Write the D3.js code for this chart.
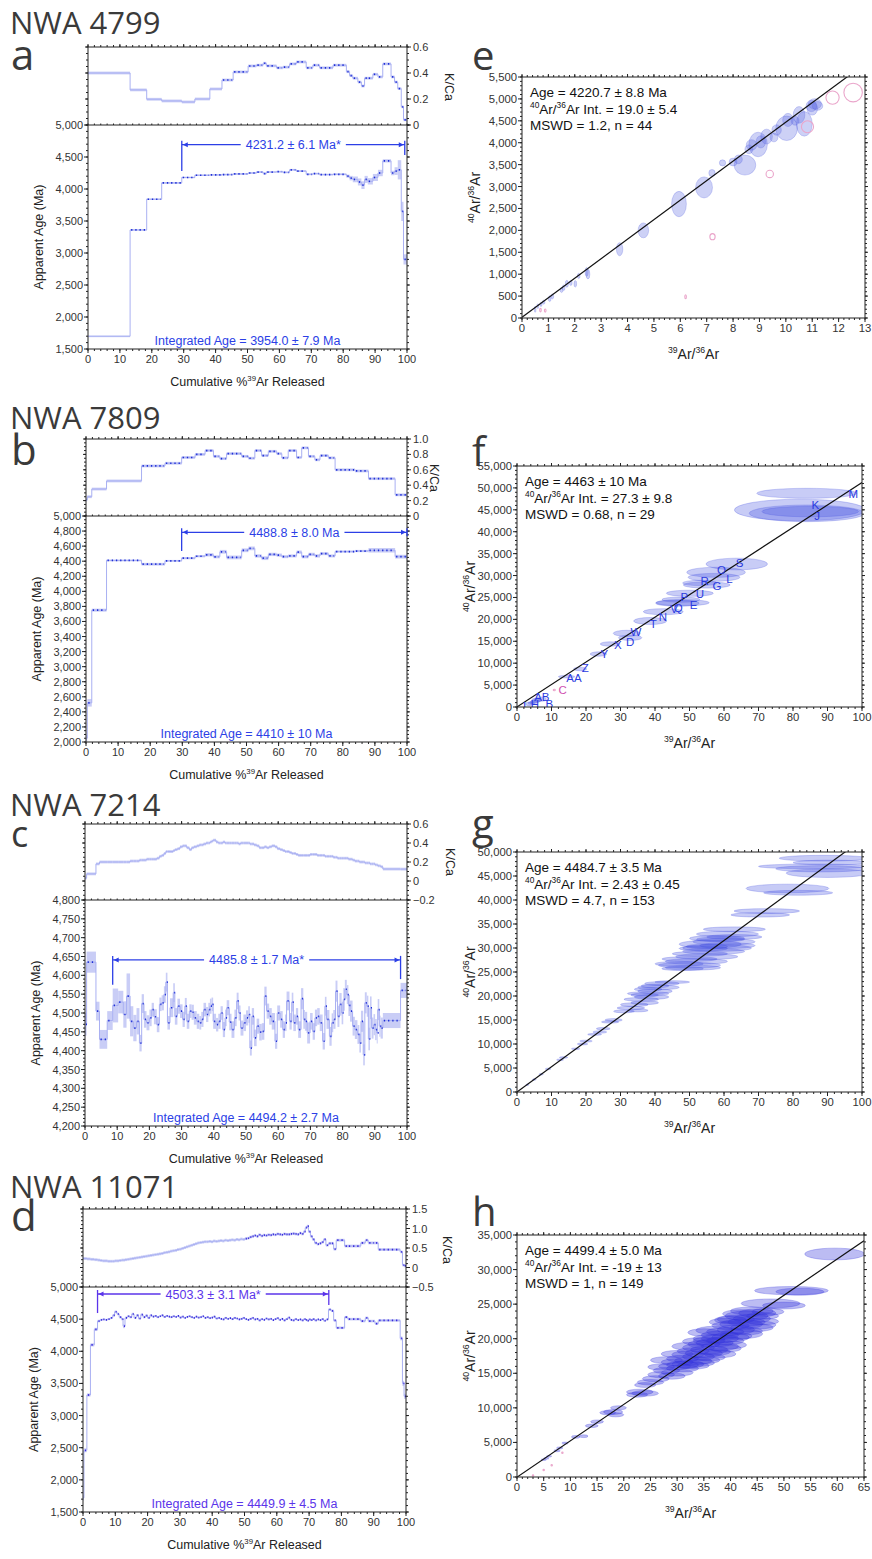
<!DOCTYPE html>
<html>
<head>
<meta charset="utf-8">
<script src="https://cdn.jsdelivr.net/npm/d3@7"></script>
<style>
  body { margin: 0; background: #fff; }
  text { font-family: "Liberation Sans", Arial, sans-serif; }
  .big { font-family: "Open Sans", "Noto Sans", sans-serif; fill: #3a3a3a; }
</style>
</head>
<body>
<div id="fig"></div>
<script>
// ---- data -------------------------------------------------------------
const sampleNames = ['NWA 4799', 'NWA 7809', 'NWA 7214', 'NWA 11071'];
const leftLetters = ['a', 'b', 'c', 'd'];
const rightLetters = ['e', 'f', 'g', 'h'];

// steps: [start cumulative % 39Ar, apparent age (Ma), age 1s error, K/Ca]
const stepsA = [
  [0, 1700, 8, 0.40], [13.2, 3360, 12, 0.27], [18.4, 3840, 12, 0.198], [23.1, 4095, 14, 0.185],
  [29.4, 4180, 12, 0.177], [33.5, 4215, 12, 0.20], [38.2, 4220, 12, 0.277], [42.0, 4225, 14, 0.346],
  [45.5, 4235, 14, 0.408], [50.2, 4250, 14, 0.454], [52.8, 4265, 14, 0.46], [54.9, 4240, 16, 0.475],
  [55.9, 4265, 12, 0.455], [59.1, 4270, 14, 0.44], [61.1, 4260, 14, 0.445], [63.2, 4300, 14, 0.47],
  [65.3, 4280, 14, 0.485], [68.4, 4230, 14, 0.44], [70.5, 4240, 14, 0.46], [72.6, 4225, 14, 0.44],
  [76.8, 4230, 14, 0.46], [81.0, 4200, 25, 0.41], [82.0, 4170, 35, 0.38], [83.0, 4150, 45, 0.36],
  [84.6, 4110, 55, 0.33], [85.7, 4060, 60, 0.30], [86.7, 4150, 55, 0.36], [87.7, 4120, 50, 0.36],
  [89.3, 4180, 55, 0.39], [90.9, 4250, 50, 0.37], [92.4, 4440, 25, 0.47], [95.0, 4250, 35, 0.37],
  [96.1, 4280, 60, 0.33], [97.1, 4300, 150, 0.28], [98.2, 3650, 150, 0.14], [98.9, 2900, 80, 0.04]
];
const stepsB = [
  [0, 2050, 40, 0.21], [0.4, 2520, 50, 0.25], [1.8, 3750, 20, 0.35], [6.4, 4410, 12, 0.455],
  [17.3, 4360, 18, 0.65], [24.6, 4405, 12, 0.685], [29.8, 4440, 15, 0.76], [34.0, 4466, 15, 0.80],
  [37.1, 4485, 22, 0.85], [39.7, 4458, 20, 0.775], [41.7, 4525, 25, 0.745], [43.8, 4450, 25, 0.81],
  [48.5, 4545, 25, 0.775], [50.6, 4570, 25, 0.75], [52.6, 4470, 22, 0.85], [54.7, 4440, 25, 0.785],
  [56.8, 4490, 22, 0.84], [59.4, 4480, 22, 0.81], [61.0, 4460, 20, 0.755], [63.0, 4470, 20, 0.85],
  [65.6, 4520, 22, 0.76], [67.2, 4460, 22, 0.885], [69.3, 4490, 22, 0.775], [71.3, 4470, 22, 0.73],
  [72.9, 4500, 20, 0.785], [75.5, 4470, 20, 0.755], [77.6, 4528, 15, 0.60], [83.8, 4535, 15, 0.585],
  [88.0, 4545, 30, 0.485], [96.3, 4460, 25, 0.275]
];
const stepsC = [
  [0, 4470, 30, 0.03], [0.5, 4635, 28, 0.075], [3.4, 4505, 25, 0.18], [4.5, 4430, 25, 0.20],
  [6.9, 4480, 25, 0.20], [8.6, 4520, 45, 0.20], [10.3, 4529, 30, 0.20], [11.9, 4496, 35, 0.20],
  [12.9, 4545, 60, 0.20], [14.0, 4478, 40, 0.21], [15.0, 4460, 35, 0.21], [16.0, 4478, 35, 0.21],
  [16.9, 4420, 22, 0.22], [17.6, 4525, 25, 0.22], [18.3, 4483, 22, 0.22], [19.1, 4474, 20, 0.23],
  [20.0, 4487, 22, 0.23], [20.7, 4509, 18, 0.23], [21.4, 4490, 20, 0.23], [22.3, 4469, 20, 0.24],
  [23.1, 4523, 18, 0.26], [23.8, 4527, 20, 0.27], [24.5, 4549, 22, 0.29], [25.1, 4582, 25, 0.31],
  [25.6, 4474, 18, 0.31], [26.4, 4514, 25, 0.31], [27.4, 4554, 25, 0.32], [27.9, 4491, 22, 0.33],
  [28.7, 4518, 20, 0.34], [29.5, 4505, 18, 0.36], [30.3, 4483, 20, 0.37], [31.0, 4518, 22, 0.37],
  [31.6, 4478, 20, 0.35], [32.4, 4505, 18, 0.33], [33.1, 4502, 20, 0.35], [33.8, 4487, 18, 0.36],
  [34.7, 4478, 20, 0.37], [35.5, 4474, 18, 0.38], [36.1, 4483, 20, 0.38], [36.8, 4509, 18, 0.39],
  [37.6, 4496, 20, 0.40], [38.3, 4509, 18, 0.40], [38.8, 4518, 20, 0.41], [39.3, 4523, 18, 0.42],
  [39.8, 4478, 20, 0.43], [40.7, 4469, 18, 0.41], [41.4, 4478, 20, 0.40], [42.1, 4500, 18, 0.40],
  [42.8, 4456, 20, 0.41], [43.5, 4487, 22, 0.40], [44.0, 4514, 20, 0.40], [44.8, 4476, 22, 0.40],
  [45.5, 4456, 22, 0.40], [46.4, 4487, 22, 0.40], [47.1, 4532, 22, 0.40], [47.7, 4500, 20, 0.39],
  [48.3, 4460, 20, 0.40], [49.2, 4474, 22, 0.40], [50.0, 4487, 20, 0.40], [50.7, 4496, 22, 0.40],
  [51.2, 4407, 20, 0.39], [51.8, 4491, 22, 0.39], [52.5, 4434, 22, 0.38], [53.3, 4465, 20, 0.37],
  [54.1, 4449, 22, 0.35], [54.9, 4451, 22, 0.35], [55.7, 4545, 25, 0.36], [56.4, 4505, 20, 0.35],
  [57.2, 4491, 22, 0.36], [58.0, 4478, 22, 0.37], [59.0, 4425, 20, 0.36], [59.7, 4500, 20, 0.34],
  [60.6, 4483, 22, 0.33], [61.4, 4456, 22, 0.32], [62.1, 4474, 22, 0.31], [62.6, 4532, 25, 0.31],
  [63.5, 4478, 22, 0.30], [64.2, 4529, 25, 0.29], [64.7, 4474, 22, 0.29], [65.5, 4491, 22, 0.28],
  [66.2, 4456, 22, 0.27], [67.1, 4538, 28, 0.27], [67.8, 4483, 25, 0.27], [68.3, 4478, 25, 0.27],
  [69.0, 4447, 28, 0.27], [69.9, 4478, 22, 0.28], [70.7, 4451, 22, 0.28], [71.4, 4487, 22, 0.28],
  [72.1, 4491, 22, 0.27], [72.9, 4474, 22, 0.27], [73.8, 4425, 22, 0.27], [74.5, 4518, 25, 0.26],
  [75.0, 4483, 25, 0.26], [75.9, 4438, 25, 0.26], [76.6, 4474, 25, 0.26], [77.1, 4483, 25, 0.25],
  [77.8, 4558, 28, 0.25], [78.4, 4491, 28, 0.24], [79.0, 4523, 30, 0.24], [79.7, 4500, 30, 0.24],
  [80.2, 4536, 30, 0.24], [80.7, 4563, 25, 0.24], [81.3, 4549, 25, 0.24], [81.8, 4520, 28, 0.23],
  [82.3, 4505, 28, 0.23], [83.1, 4465, 25, 0.22], [83.8, 4456, 25, 0.21], [84.6, 4443, 25, 0.21],
  [85.2, 4420, 25, 0.20], [85.7, 4478, 28, 0.20], [86.4, 4389, 28, 0.20], [86.9, 4527, 28, 0.19],
  [87.5, 4518, 28, 0.19], [88.0, 4431, 30, 0.19], [88.5, 4514, 30, 0.18], [89.0, 4460, 28, 0.18],
  [89.6, 4469, 28, 0.18], [90.1, 4456, 28, 0.17], [90.6, 4447, 28, 0.17], [90.9, 4509, 28, 0.16],
  [91.4, 4465, 28, 0.16], [91.8, 4460, 28, 0.15], [92.5, 4480, 20, 0.126], [98.0, 4560, 20, 0.125]
];
const stepsD = [
  [0, 1720, 40, 0.23], [0.3, 2460, 30, 0.23], [1.2, 3320, 25, 0.22], [2.3, 4100, 25, 0.21],
  [3.5, 4340, 25, 0.20], [4.5, 4470, 20, 0.19], [5.3, 4490, 15, 0.18], [6.0, 4495, 15, 0.17],
  [6.8, 4490, 15, 0.17], [7.6, 4500, 15, 0.16], [8.4, 4520, 15, 0.16], [9.2, 4560, 20, 0.16],
  [9.8, 4615, 20, 0.17], [10.5, 4580, 20, 0.17], [11.2, 4530, 20, 0.18], [11.9, 4500, 20, 0.19],
  [12.4, 4390, 30, 0.19], [13.0, 4520, 20, 0.20], [13.7, 4545, 18, 0.21], [14.4, 4530, 18, 0.22],
  [15.1, 4580, 20, 0.23], [15.8, 4520, 18, 0.24], [16.5, 4560, 20, 0.25], [17.2, 4510, 18, 0.26],
  [17.9, 4570, 20, 0.27], [18.6, 4530, 18, 0.28], [19.3, 4555, 20, 0.29], [20.0, 4520, 18, 0.30],
  [20.7, 4560, 18, 0.31], [21.4, 4540, 15, 0.32], [22.1, 4550, 15, 0.33], [22.8, 4530, 15, 0.34],
  [23.5, 4545, 15, 0.35], [24.2, 4560, 15, 0.36], [24.9, 4535, 15, 0.38], [25.6, 4550, 15, 0.39],
  [26.3, 4540, 15, 0.40], [27.0, 4530, 15, 0.42], [27.7, 4545, 15, 0.43], [28.4, 4535, 15, 0.44],
  [29.1, 4550, 15, 0.46], [29.8, 4525, 15, 0.47], [30.5, 4540, 15, 0.49], [31.2, 4520, 15, 0.51],
  [31.9, 4535, 15, 0.53], [32.6, 4545, 15, 0.55], [33.3, 4530, 15, 0.57], [34.0, 4520, 15, 0.59],
  [34.7, 4540, 15, 0.61], [35.4, 4525, 15, 0.63], [36.1, 4530, 15, 0.64], [36.8, 4545, 15, 0.65],
  [37.5, 4520, 15, 0.66], [38.2, 4530, 15, 0.66], [38.9, 4515, 15, 0.67], [39.6, 4525, 15, 0.66],
  [40.3, 4540, 15, 0.68], [41.0, 4510, 15, 0.67], [41.7, 4520, 15, 0.68], [42.4, 4505, 15, 0.69],
  [43.1, 4495, 15, 0.68], [43.8, 4520, 15, 0.70], [44.5, 4505, 15, 0.69], [45.2, 4515, 15, 0.70],
  [45.9, 4500, 15, 0.71], [46.6, 4520, 15, 0.70], [47.3, 4510, 15, 0.72], [48.0, 4495, 15, 0.71],
  [48.7, 4505, 15, 0.73], [49.4, 4520, 15, 0.72], [50.1, 4500, 15, 0.74], [50.8, 4490, 15, 0.75],
  [51.5, 4505, 15, 0.78], [52.2, 4520, 15, 0.80], [52.9, 4495, 15, 0.82], [53.6, 4505, 15, 0.80],
  [54.3, 4480, 15, 0.84], [55.0, 4500, 15, 0.81], [55.7, 4490, 15, 0.83], [56.4, 4510, 15, 0.82],
  [57.1, 4495, 15, 0.84], [57.8, 4505, 15, 0.83], [58.5, 4485, 15, 0.85], [59.2, 4500, 15, 0.84],
  [59.9, 4515, 15, 0.86], [60.6, 4490, 15, 0.85], [61.3, 4505, 15, 0.84], [62.0, 4480, 15, 0.86],
  [62.7, 4500, 15, 0.85], [63.4, 4525, 15, 0.85], [64.1, 4490, 15, 0.86], [64.8, 4480, 15, 0.87],
  [65.5, 4500, 15, 0.86], [66.2, 4485, 15, 0.85], [66.9, 4495, 15, 0.88], [67.6, 4480, 15, 0.86],
  [68.3, 4500, 15, 0.92], [68.8, 4490, 15, 1.02], [69.3, 4475, 15, 1.06], [69.8, 4495, 15, 0.92],
  [70.4, 4485, 15, 0.80], [71.0, 4500, 15, 0.72], [71.7, 4480, 15, 0.63], [72.4, 4495, 15, 0.60],
  [73.1, 4485, 15, 0.62], [73.8, 4500, 15, 0.65], [74.5, 4475, 15, 0.72], [75.2, 4495, 15, 0.57],
  [76.0, 4650, 20, 0.62], [76.8, 4630, 20, 0.62], [77.6, 4480, 20, 0.47], [78.4, 4365, 20, 0.70],
  [81.0, 4530, 20, 0.55], [82.0, 4500, 20, 0.55], [86.0, 4470, 20, 0.63], [87.4, 4520, 20, 0.70],
  [88.3, 4470, 20, 0.63], [90.4, 4430, 20, 0.63], [91.4, 4480, 20, 0.46], [98.2, 4200, 30, 0.40],
  [98.9, 3500, 40, 0.06], [99.4, 3300, 40, 0.04]
];

// plateau: [from %, to %, bracket age, left drop age, right drop age, label]
const plateaus = [
  [29.4, 99.3, 4692, 4280, 4530, '4231.2 ± 6.1 Ma*'],
  [29.8, 100, 4783, 4535, null, '4488.8 ± 8.0 Ma'],
  [8.6, 98.0, 4641, 4575, 4590, '4485.8 ± 1.7 Ma*'],
  [4.5, 76.1, 4891, 4595, 4720, '4503.3 ± 3.1 Ma*']
];
const integratedAges = [
  'Integrated Age = 3954.0 ± 7.9 Ma', 'Integrated Age = 4410 ± 10 Ma',
  'Integrated Age = 4494.2 ± 2.7 Ma', 'Integrated Age = 4449.9 ± 4.5 Ma'
];
const ageDomains = [[1500, 5000], [2000, 5000], [4200, 4800], [1500, 5000]];
const ageTickSteps = [[500, 100], [200, 50], [50, 10], [500, 100]];
const kcaDomains = [[0, 0.6], [0, 1.0], [-0.2, 0.6], [-0.5, 1.5]];
const kcaTickSteps = [[0.2, 0.05], [0.2, 0.05], [0.2, 0.05], [0.5, 0.1]];
// where the dark centre dots start (age, K/Ca)
const dotStarts = [[13, 42], [0.3, 17], [0, 101], [0.2, 50]];

// isochrons: ellipses [39Ar/36Ar, 40Ar/36Ar, x err, y err]
const isoE = [
  [0.5, 200, 0.03, 70], [0.6, 270, 0.03, 55], [0.72, 310, 0.04, 50], [0.82, 360, 0.05, 45],
  [1.05, 440, 0.05, 65], [1.15, 490, 0.05, 55], [1.5, 640, 0.05, 60], [1.58, 690, 0.05, 65],
  [1.7, 780, 0.06, 80], [1.85, 800, 0.05, 60], [2.02, 780, 0.05, 75], [2.15, 960, 0.05, 60],
  [2.45, 1050, 0.06, 100], [2.5, 1000, 0.07, 110], [3.7, 1570, 0.12, 150], [4.6, 2000, 0.2, 170],
  [5.95, 2600, 0.28, 290], [6.9, 2980, 0.32, 240], [7.2, 3310, 0.12, 80], [7.6, 3540, 0.12, 70],
  [8.0, 3560, 0.15, 90], [8.45, 3490, 0.41, 228], [8.2, 3620, 0.15, 100], [8.6, 3850, 0.15, 100],
  [8.7, 3950, 0.2, 120], [8.95, 3960, 0.35, 280], [9.05, 4020, 0.18, 140], [9.27, 4140, 0.22, 170],
  [9.55, 4120, 0.15, 100], [9.65, 4290, 0.18, 120], [10.03, 4330, 0.41, 280], [10.08, 4520, 0.2, 150],
  [10.35, 4500, 0.15, 100], [10.5, 4635, 0.22, 190], [10.7, 4430, 0.3, 280], [10.97, 4840, 0.2, 130],
  [11.1, 4886, 0.25, 120], [11.2, 4840, 0.2, 100], [11.0, 4780, 0.2, 150]
];
const isoEExcluded = [
  [11.77, 5030, 0.25, 152], [12.55, 5145, 0.35, 212], [10.82, 4365, 0.23, 137], [9.39, 3288, 0.14, 85],
  [7.22, 1856, 0.1, 70], [6.2, 486, 0.03, 45], [0.7, 180, 0.03, 40], [0.88, 170, 0.03, 35]
];
const isoF = [
  [84, 48770, 14.5, 1140], [82, 44960, 19, 2470], [84, 44200, 16.7, 1900], [85, 44600, 14, 1200],
  [63.7, 32630, 8.9, 1330], [57.7, 30740, 8.5, 1150], [57.1, 29590, 7.5, 900], [55, 27840, 6.8, 700],
  [53, 28300, 5, 600], [50.1, 25950, 6.8, 700], [47.5, 24500, 5.5, 600], [46.5, 23700, 6.3, 700],
  [48, 23800, 7.7, 700], [42.4, 21750, 5.8, 700], [38.6, 19630, 4.8, 800], [31.8, 16810, 3.9, 700],
  [32.8, 15800, 3.4, 600], [27, 14380, 2.9, 500], [23.6, 12090, 2.4, 500], [18.3, 8670, 1.9, 400],
  [14.4, 6920, 2.4, 300], [3.5, 700, 1, 400], [7, 1800, 1.5, 500], [5.5, 1500, 1.2, 500],
  [5, 1200, 1, 400], [4.5, 1000, 0.8, 350], [6, 1600, 1.2, 400], [4, 900, 0.8, 300]
];
const isoFExcluded = [[10.8, 3880, 0.3, 150]];
const isoFLabels = [
  ['M', 97.5, 48600], ['K', 86.5, 46200], ['J', 87, 43600], ['S', 64.5, 32900], ['O', 59.3, 31300],
  ['L', 61.6, 29300], ['R', 54.4, 28700], ['G', 58, 27600], ['U', 53, 25800], ['P', 48.5, 25000],
  ['Q', 46.7, 22700], ['E', 51.2, 23300], ['V', 45.5, 22400], ['N', 42.3, 20600], ['T', 39.5, 19000],
  ['W', 34.5, 17200], ['D', 32.8, 14900], ['X', 29.2, 14200], ['Y', 25.3, 12200], ['Z', 19.8, 8800],
  ['AA', 16.5, 6600], ['AB', 7.2, 2400], ['H', 5.2, 700], ['B', 9.4, 800], ['I', 2.2, 300]
];
const isoFExcludedLabels = [['C', 13.2, 3800]];
const isoG = [
  [89, 48700, 13, 600], [86, 47000, 16, 500], [88, 46500, 13, 650], [90, 45600, 12, 900], [91, 47800, 11, 500],
  [78.4, 42400, 12, 900], [81.5, 41500, 10, 500], [72.4, 37700, 9.5, 500], [70.5, 36900, 8.5, 450],
  [63, 33900, 9, 500], [61, 32900, 9, 600], [63, 32300, 8, 500], [58, 32000, 8, 600], [60, 31300, 9, 700],
  [56, 30800, 9, 800], [61, 30500, 8, 600], [58, 30000, 10, 700], [54, 29900, 7, 500], [57, 29300, 9, 600],
  [53, 28800, 8, 500], [55, 28200, 9, 600], [50, 27700, 8, 500], [52, 27200, 9, 600], [47, 26700, 7, 500],
  [50, 26400, 9, 600], [51, 25900, 8, 500], [48, 25700, 6, 400], [59, 31800, 7, 500], [55, 30300, 6, 500],
  [42, 22600, 5, 400], [45, 22900, 5, 300], [41, 21800, 6, 500], [40, 21000, 5, 500], [38, 20500, 6, 400],
  [39, 19800, 5, 500], [36, 19300, 5, 400], [37, 18600, 4, 400], [34, 18200, 4, 400], [33, 17500, 4, 350],
  [35, 17000, 3, 300], [31, 16800, 3, 300], [40, 22100, 4, 400], [37, 20200, 4, 400], [38, 21400, 4, 400],
  [28, 15000, 2.5, 300], [27, 14600, 2.5, 250], [25, 13200, 2, 250],
  [24, 12500, 2, 250], [22.5, 12000, 2, 200], [20, 10600, 1.8, 200], [19, 10000, 1.5, 200], [17, 9000, 1.2, 150],
  [13.5, 7200, 1.2, 150], [12.5, 6700, 1, 120], [9, 4800, 0.8, 100], [7, 3700, 0.6, 100], [5, 2600, 0.5, 80],
  [3, 1500, 0.4, 60]
];
const isoH = [
  [59.5, 32250, 5.6, 850], [51.4, 26950, 6.9, 600], [53, 26800, 4.5, 500], [47.5, 25100, 5.5, 650],
  [50, 24800, 4, 500], [45, 23700, 3.5, 600], [43, 23300, 4, 700], [44, 22900, 3.5, 600], [46, 22500, 3, 500],
  [42, 22100, 4, 700], [40, 21900, 3.5, 600], [44, 21600, 4, 600], [41, 21300, 3.5, 650], [39, 21000, 3.5, 600],
  [42, 20700, 4, 700], [38, 20500, 3.5, 600], [40, 20200, 3.5, 650], [36, 20000, 3, 600], [39, 19700, 3.5, 600],
  [37, 19400, 3.5, 600], [35, 19200, 3, 550], [38, 18900, 3.5, 600], [34, 18700, 3, 550], [36, 18400, 3.5, 600],
  [33, 18200, 3, 500], [35, 17900, 3.5, 600], [32, 17700, 3, 550], [34, 17400, 3, 550], [31, 17100, 3, 500],
  [33, 16800, 3.5, 600], [30, 16600, 3, 500], [32, 16300, 3, 550], [29.5, 16000, 3, 500], [31, 15700, 3, 500],
  [28, 15400, 2.5, 450], [30, 15100, 3, 500], [27, 14800, 2.5, 450], [26, 14200, 2.5, 450], [25, 13700, 2.5, 400],
  [24, 13300, 2, 350], [23, 12300, 2.5, 400], [22.5, 11900, 2, 350], [24, 12100, 2.5, 400], [37, 21200, 3.5, 600],
  [41, 22800, 3.5, 600], [47, 23900, 3, 500], [43, 21100, 3, 550], [36, 17300, 3, 500], [40, 19100, 3, 550],
  [34, 16500, 3, 500], [38, 17800, 3, 550], [29, 14600, 2.5, 450], [32, 18900, 3, 550], [45, 22000, 3.5, 600],
  [35, 20900, 3, 550], [39, 22400, 3, 550], [30, 17800, 3, 500], [28, 16900, 3, 500],
  [42, 23600, 3.5, 600], [44, 24000, 4, 600], [46, 23300, 3, 500], [41, 20400, 3, 550], [39, 18600, 3, 550],
  [37, 18100, 3, 500], [35, 16900, 3, 500], [33, 16100, 3, 500], [31, 16200, 3, 500], [36, 19700, 3, 550],
  [38, 20000, 3.5, 600], [43, 22400, 3.5, 600], [34, 19600, 3, 550], [40, 22700, 3, 550], [27, 15900, 2.5, 450],
  [19, 10000, 1.5, 300], [18, 9400, 1.8, 350], [17, 9300, 1.5, 300], [18.5, 9000, 1.5, 300], [15, 8000, 1.2, 250],
  [14, 7400, 1.2, 250], [11, 5800, 0.8, 200], [12.5, 5900, 0.8, 200], [9, 4900, 0.6, 150], [8, 4200, 0.6, 150],
  [7.5, 3800, 0.6, 150], [6, 3000, 0.5, 120], [5.5, 2700, 0.5, 120], [5, 2500, 0.5, 100]
];
const isoHExcluded = [[3, 200, 0.1, 80], [5, 1000, 0.1, 80], [6.5, 1700, 0.1, 80], [8.5, 3500, 0.1, 80]];

// isochron fits: [intercept, slope]
const isoFits = [[19.0, 445], [27.3, 512], [2.43, 525.8], [-19, 526]];
const isoXDomains = [[0, 13], [0, 100], [0, 100], [0, 65]];
const isoYDomains = [[0, 5500], [0, 55000], [0, 50000], [0, 35000]];
const isoXTickSteps = [[1, 0.2], [10, 2], [10, 2], [5, 1]];
const isoYTickSteps = [[500, 100], [5000, 1000], [5000, 1000], [5000, 1000]];
const isoTexts = [
  ['Age =  4220.7 ± 8.8 Ma', '^40^Ar/^36^Ar Int. =  19.0 ± 5.4', 'MSWD = 1.2, n = 44'],
  ['Age =  4463 ± 10 Ma', '^40^Ar/^36^Ar Int. =  27.3 ± 9.8', 'MSWD = 0.68, n = 29'],
  ['Age =  4484.7 ± 3.5 Ma', '^40^Ar/^36^Ar Int. =  2.43 ± 0.45', 'MSWD = 4.7, n = 153'],
  ['Age =  4499.4 ± 5.0 Ma', '^40^Ar/^36^Ar Int. =  -19 ± 13', 'MSWD = 1, n = 149']
];

// ---- layout -----------------------------------------------------------
const W = 872, H = 1559;
const leftBoxes = [
  { x0: 88, x1: 407, kTop: 47, kBot: 125, ageBot: 349 },
  { x0: 86, x1: 407, kTop: 439, kBot: 516, ageBot: 742 },
  { x0: 85, x1: 407, kTop: 824, kBot: 900, ageBot: 1126 },
  { x0: 83, x1: 406, kTop: 1209, kBot: 1287, ageBot: 1512 }
];
const rightBoxes = [
  { x0: 522, x1: 865, y0: 77, y1: 318 },
  { x0: 517, x1: 862, y0: 466, y1: 707 },
  { x0: 517, x1: 862, y0: 852, y1: 1092 },
  { x0: 517, x1: 864, y0: 1235, y1: 1477 }
];
const headers = [
  { ty: 34, ly: 70, rly: 70, kx: 449, ky: 87 },
  { ty: 429, ly: 465, rly: 466, kx: 434, ky: 478 },
  { ty: 816, ly: 847, rly: 838, kx: 450, ky: 862 },
  { ty: 1198, ly: 1231, rly: 1226, kx: 447, ky: 1250 }
];
const palettes = [
  { txt: '#2c3fe6', dot: '#1f2fd6', ell: '#5a66e2', op: 0.3 },
  { txt: '#2c3fe6', dot: '#1f2fd6', ell: '#4a56e0', op: 0.3 },
  { txt: '#2c3fe6', dot: '#1f2fd6', ell: '#4652e0', op: 0.3 },
  { txt: '#5b34ea', dot: '#3a28dc', ell: '#3535dc', op: 0.33 }
];
const BOX = '#c9cdf6', STEPLINE = '#a9b0f2';
const PINK = '#eaa6cb';

const svg = d3.select('#fig').append('svg').attr('width', W).attr('height', H);
const defs = svg.append('defs');
let clipId = 0;
function clip(x, y, w, h) {
  const id = 'clip' + (clipId++);
  defs.append('clipPath').attr('id', id).append('rect').attr('x', x).attr('y', y).attr('width', w).attr('height', h);
  return 'url(#' + id + ')';
}

// text with ^sup^ markers
function richText(sel, str, size) {
  const parts = str.split('^');
  let wasSup = false;
  parts.forEach((p, i) => {
    if (p === '') return;
    const sup = i % 2 === 1;
    const t = sel.append('tspan').text(p);
    if (sup) { t.attr('font-size', size * 0.62).attr('dy', wasSup ? 0 : -size * 0.42); }
    else { t.attr('font-size', size).attr('dy', wasSup ? size * 0.42 : 0); }
    wasSup = sup;
  });
}

// tick marks on one side of a frame
function tickMarks(g, scale, vals, side, pos, len) {
  g.append('g').selectAll('line').data(vals).join('line')
    .attr('x1', d => side === 'left' || side === 'right' ? pos : scale(d))
    .attr('x2', d => side === 'left' ? pos - len : side === 'right' ? pos + len : scale(d))
    .attr('y1', d => side === 'top' || side === 'bottom' ? pos : scale(d))
    .attr('y2', d => side === 'top' ? pos - len : side === 'bottom' ? pos + len : scale(d))
    .attr('stroke', '#222').attr('stroke-width', 1);
}
function tickValues(domain, step) {
  return d3.range(Math.round(domain[0] / step), Math.round(domain[1] / step) + 1).map(i => +(i * step).toFixed(6));
}

// ---- step-heating spectra ----------------------------------------------
function drawSpectrum(i, stepData) {
  const b = leftBoxes[i], pal = palettes[i];
  const g = svg.append('g');
  const x = d3.scaleLinear().domain([0, 100]).range([b.x0, b.x1]);
  const ya = d3.scaleLinear().domain(ageDomains[i]).range([b.ageBot, b.kBot]);
  const yk = d3.scaleLinear().domain(kcaDomains[i]).range([b.kBot, b.kTop]);
  const steps = stepData.map((s, j, arr) => ({
    x0: s[0], x1: j < arr.length - 1 ? arr[j + 1][0] : 100, age: s[1], err: s[2], k: s[3]
  }));

  // age panel
  const ga = g.append('g').attr('clip-path', clip(b.x0, b.kBot, b.x1 - b.x0, b.ageBot - b.kBot));
  ga.selectAll('rect').data(steps).join('rect')
    .attr('x', d => x(d.x0)).attr('width', d => Math.max(0.8, x(d.x1) - x(d.x0)))
    .attr('y', d => ya(d.age + d.err)).attr('height', d => Math.max(1.5, ya(d.age - d.err) - ya(d.age + d.err)))
    .attr('fill', BOX);
  const stepPts = a => steps.map(d => [x(d.x0), a(d)]).concat([[x(100), a(steps[steps.length - 1])]]);
  const stepLine = d3.line().curve(d3.curveStepAfter);
  ga.append('path').attr('d', stepLine(stepPts(d => ya(d.age))))
    .attr('fill', 'none').attr('stroke', STEPLINE).attr('stroke-width', 1);
  ga.selectAll('line.dot').data(steps.filter(d => d.x0 >= dotStarts[i][0])).join('line')
    .attr('x1', d => x(d.x0) + 1).attr('x2', d => Math.max(x(d.x0) + 2, x(d.x1) - 1))
    .attr('y1', d => ya(d.age)).attr('y2', d => ya(d.age))
    .attr('stroke', pal.dot).attr('stroke-width', 1.7).attr('stroke-dasharray', '1.3,2.9');

  // K/Ca panel
  const gk = g.append('g').attr('clip-path', clip(b.x0, b.kTop, b.x1 - b.x0, b.kBot - b.kTop));
  gk.selectAll('rect').data(steps).join('rect')
    .attr('x', d => x(d.x0)).attr('width', d => Math.max(0.8, x(d.x1) - x(d.x0)))
    .attr('y', d => yk(d.k) - 1.4).attr('height', 2.8).attr('fill', BOX);
  gk.append('path').attr('d', stepLine(stepPts(d => yk(d.k))))
    .attr('fill', 'none').attr('stroke', STEPLINE).attr('stroke-width', 1);
  gk.selectAll('line.dot').data(steps.filter(d => d.x0 >= dotStarts[i][1])).join('line')
    .attr('x1', d => x(d.x0) + 1).attr('x2', d => Math.max(x(d.x0) + 2, x(d.x1) - 1))
    .attr('y1', d => yk(d.k)).attr('y2', d => yk(d.k))
    .attr('stroke', pal.dot).attr('stroke-width', 1.7).attr('stroke-dasharray', '1.3,2.9');

  // frames
  g.append('rect').attr('x', b.x0).attr('y', b.kTop).attr('width', b.x1 - b.x0).attr('height', b.ageBot - b.kTop)
    .attr('fill', 'none').attr('stroke', '#222').attr('stroke-width', 1);
  g.append('line').attr('x1', b.x0).attr('x2', b.x1).attr('y1', b.kBot).attr('y2', b.kBot)
    .attr('stroke', '#222').attr('stroke-width', 1.2);

  // ticks
  const xMaj = tickValues([0, 100], 10), xMin = tickValues([0, 100], 2);
  tickMarks(g, x, xMin, 'bottom', b.ageBot, 2); tickMarks(g, x, xMaj, 'bottom', b.ageBot, 4);
  tickMarks(g, x, xMin, 'top', b.kTop, 2); tickMarks(g, x, xMaj, 'top', b.kTop, 3);
  tickMarks(g, x, xMin, 'top', b.kBot, 1.5);
  const aMaj = tickValues(ageDomains[i], ageTickSteps[i][0]), aMin = tickValues(ageDomains[i], ageTickSteps[i][1]);
  tickMarks(g, ya, aMin, 'left', b.x0, 2); tickMarks(g, ya, aMaj, 'left', b.x0, 4);
  tickMarks(g, ya, aMin, 'right', b.x1, 2); tickMarks(g, ya, aMaj, 'right', b.x1, 3);
  const kMaj = tickValues(kcaDomains[i], kcaTickSteps[i][0]), kMin = tickValues(kcaDomains[i], kcaTickSteps[i][1]);
  tickMarks(g, yk, kMin, 'left', b.x0, 2); tickMarks(g, yk, kMaj, 'left', b.x0, 3);
  tickMarks(g, yk, kMin, 'right', b.x1, 2); tickMarks(g, yk, kMaj, 'right', b.x1, 4);

  // tick labels
  g.append('g').selectAll('text').data(xMaj).join('text')
    .attr('x', d => x(d)).attr('y', b.ageBot + 14).attr('text-anchor', 'middle')
    .attr('font-size', 11).attr('fill', '#333').text(d => d);
  g.append('g').selectAll('text').data(aMaj).join('text')
    .attr('x', b.x0 - 5).attr('y', d => ya(d) + 4).attr('text-anchor', 'end')
    .attr('font-size', 11).attr('fill', '#333').text(d3.format(','));
  g.append('g').selectAll('text').data(kMaj).join('text')
    .attr('x', b.x1 + 6).attr('y', d => yk(d) + 4).attr('text-anchor', 'start')
    .attr('font-size', 11).attr('fill', '#333').text(d => d === 0 ? '0' : d3.format('.1f')(d));

  // axis titles
  const xt = g.append('text').attr('x', (b.x0 + b.x1) / 2).attr('y', b.ageBot + 37)
    .attr('text-anchor', 'middle').attr('fill', '#222');
  richText(xt, 'Cumulative %^39^Ar Released', 12.5);
  g.append('text').attr('transform', `translate(${b.x0 - 45},${(b.kBot + b.ageBot) / 2}) rotate(-90)`)
    .attr('text-anchor', 'middle').attr('font-size', 12.5).attr('fill', '#222').text('Apparent Age (Ma)');
  const h = headers[i];
  g.append('text').attr('transform', `translate(${h.kx},${h.ky}) rotate(90)`)
    .attr('text-anchor', 'middle').attr('dy', '0.35em').attr('font-size', 12.5).attr('fill', '#222').text('K/Ca');

  // plateau bracket
  const p = plateaus[i];
  const by = ya(p[2]), bx0 = x(p[0]), bx1 = x(p[1]), mid = (bx0 + bx1) / 2;
  const lab = g.append('text').attr('x', mid).attr('y', by + 4.5).attr('text-anchor', 'middle')
    .attr('font-size', 12.5).attr('fill', pal.txt).text(p[5]);
  const tw = lab.node().getComputedTextLength() / 2 + 5;
  const bracket = g.append('g').attr('stroke', pal.txt).attr('stroke-width', 1.3).attr('fill', 'none');
  bracket.append('line').attr('x1', bx0).attr('x2', mid - tw).attr('y1', by).attr('y2', by);
  bracket.append('line').attr('x1', mid + tw).attr('x2', bx1).attr('y1', by).attr('y2', by);
  bracket.append('line').attr('x1', bx0).attr('x2', bx0).attr('y1', by - 4).attr('y2', ya(p[3]));
  bracket.append('line').attr('x1', bx1).attr('x2', bx1).attr('y1', by - 4).attr('y2', p[4] === null ? by + 4 : ya(p[4]));
  bracket.append('path').attr('d', `M${bx0 + 1},${by}l5,-2.5v5z M${bx1 - 1},${by}l-5,-2.5v5z`)
    .attr('fill', pal.txt).attr('stroke', 'none');

  // integrated age
  g.append('text').attr('x', (b.x0 + b.x1) / 2).attr('y', b.ageBot - 4).attr('text-anchor', 'middle')
    .attr('font-size', 12.5).attr('fill', pal.txt).text(integratedAges[i]);
}

// ---- isochrons ---------------------------------------------------------
function drawIsochron(i, ells, excluded, labels, exLabels) {
  const b = rightBoxes[i], pal = palettes[i];
  const g = svg.append('g');
  const x = d3.scaleLinear().domain(isoXDomains[i]).range([b.x0, b.x1]);
  const y = d3.scaleLinear().domain(isoYDomains[i]).range([b.y1, b.y0]);
  const inner = g.append('g').attr('clip-path', clip(b.x0, b.y0, b.x1 - b.x0, b.y1 - b.y0));

  inner.selectAll('ellipse.in').data(ells).join('ellipse')
    .attr('cx', d => x(d[0])).attr('cy', d => y(d[1]))
    .attr('rx', d => Math.max(0.8, x(d[2]) - x(0))).attr('ry', d => Math.max(0.8, y(0) - y(d[3])))
    .attr('fill', pal.ell).attr('fill-opacity', pal.op)
    .attr('stroke', pal.ell).attr('stroke-opacity', 0.45).attr('stroke-width', 0.6);
  inner.selectAll('ellipse.ex').data(excluded).join('ellipse')
    .attr('cx', d => x(d[0])).attr('cy', d => y(d[1]))
    .attr('rx', d => Math.max(0.7, x(d[2]) - x(0))).attr('ry', d => Math.max(0.7, y(0) - y(d[3])))
    .attr('fill', 'none').attr('stroke', PINK).attr('stroke-width', 1.1);

  const fit = isoFits[i], xd = isoXDomains[i];
  inner.append('line')
    .attr('x1', x(xd[0])).attr('y1', y(fit[0] + fit[1] * xd[0]))
    .attr('x2', x(xd[1])).attr('y2', y(fit[0] + fit[1] * xd[1]))
    .attr('stroke', '#111').attr('stroke-width', 1.2);

  inner.selectAll('text.lab').data(labels).join('text')
    .attr('x', d => x(d[1])).attr('y', d => y(d[2])).attr('dy', '0.35em').attr('text-anchor', 'middle')
    .attr('font-size', 11.5).attr('fill', '#2b3be0').text(d => d[0]);
  inner.selectAll('text.exlab').data(exLabels).join('text')
    .attr('x', d => x(d[1])).attr('y', d => y(d[2])).attr('dy', '0.35em').attr('text-anchor', 'middle')
    .attr('font-size', 11.5).attr('fill', '#d050b0').text(d => d[0]);

  g.append('rect').attr('x', b.x0).attr('y', b.y0).attr('width', b.x1 - b.x0).attr('height', b.y1 - b.y0)
    .attr('fill', 'none').attr('stroke', '#222').attr('stroke-width', 1);
  const xMaj = tickValues(isoXDomains[i], isoXTickSteps[i][0]), xMin = tickValues(isoXDomains[i], isoXTickSteps[i][1]);
  const yMaj = tickValues(isoYDomains[i], isoYTickSteps[i][0]), yMin = tickValues(isoYDomains[i], isoYTickSteps[i][1]);
  tickMarks(g, x, xMin, 'bottom', b.y1, 2); tickMarks(g, x, xMaj, 'bottom', b.y1, 4);
  tickMarks(g, x, xMin, 'top', b.y0, 2); tickMarks(g, x, xMaj, 'top', b.y0, 3);
  tickMarks(g, y, yMin, 'left', b.x0, 2); tickMarks(g, y, yMaj, 'left', b.x0, 4);
  tickMarks(g, y, yMin, 'right', b.x1, 2); tickMarks(g, y, yMaj, 'right', b.x1, 3);

  g.append('g').selectAll('text').data(xMaj).join('text')
    .attr('x', d => x(d)).attr('y', b.y1 + 14).attr('text-anchor', 'middle')
    .attr('font-size', 11.3).attr('fill', '#333').text(d => d);
  g.append('g').selectAll('text').data(yMaj).join('text')
    .attr('x', b.x0 - 5).attr('y', d => y(d) + 4).attr('text-anchor', 'end')
    .attr('font-size', 11.3).attr('fill', '#333').text(d3.format(','));

  const xt = g.append('text').attr('x', (b.x0 + b.x1) / 2).attr('y', b.y1 + 41)
    .attr('text-anchor', 'middle').attr('fill', '#222');
  richText(xt, '^39^Ar/^36^Ar', 14);
  const yt = g.append('text').attr('transform', `translate(${b.x0 - 42},${(b.y0 + b.y1) / 2}) rotate(-90)`)
    .attr('text-anchor', 'middle').attr('fill', '#222');
  richText(yt, '^40^Ar/^36^Ar', 14);

  isoTexts[i].forEach((line, j) => {
    const t = g.append('text').attr('x', b.x0 + 8).attr('y', b.y0 + 20 + j * 16.5).attr('fill', '#111');
    richText(t, line, 13.5);
  });
}

// ---- headings ----------------------------------------------------------
headers.forEach((h, i) => {
  svg.append('text').attr('class', 'big').attr('x', 10).attr('y', h.ty).attr('font-size', 31).text(sampleNames[i]);
  svg.append('text').attr('class', 'big').attr('x', 11).attr('y', h.ly).attr('font-size', i === 2 ? 36 : 42).text(leftLetters[i]);
  svg.append('text').attr('class', 'big').attr('x', 472).attr('y', h.rly).attr('font-size', 40).text(rightLetters[i]);
});

drawSpectrum(0, stepsA);
drawSpectrum(1, stepsB);
drawSpectrum(2, stepsC);
drawSpectrum(3, stepsD);
drawIsochron(0, isoE, isoEExcluded, [], []);
drawIsochron(1, isoF, isoFExcluded, isoFLabels, isoFExcludedLabels);
drawIsochron(2, isoG, [], [], []);
drawIsochron(3, isoH, isoHExcluded, [], []);
</script>
</body>
</html>
